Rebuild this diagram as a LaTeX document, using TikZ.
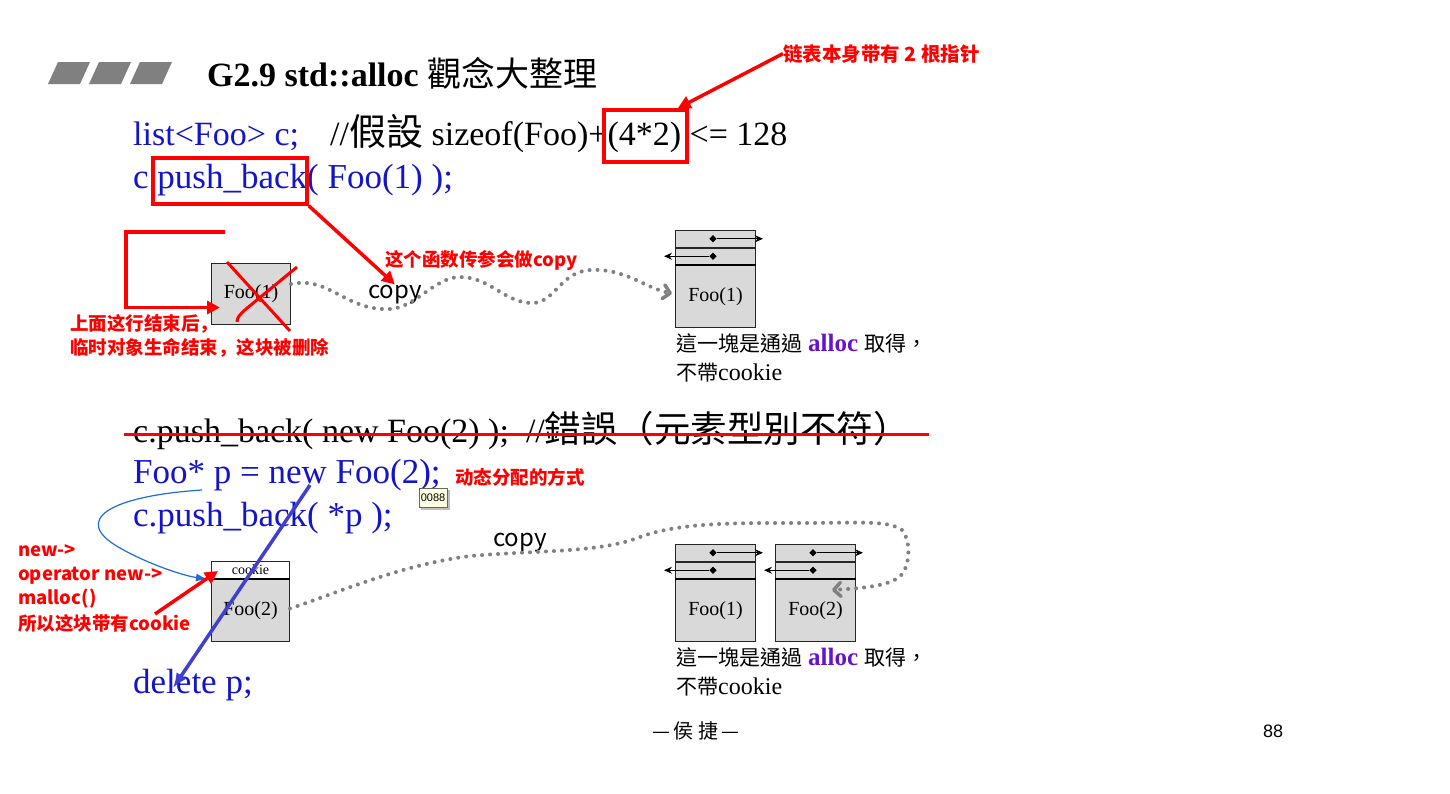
\documentclass[tikz,border=0pt]{standalone}
\usepackage{fontspec}
\setmainfont{Liberation Serif}
\newfontfamily\tcfont{Noto Sans CJK TC}
\newfontfamily\scfont{Noto Sans CJK SC}
\newfontfamily\arialfont{Liberation Sans}
\usetikzlibrary{arrows.meta,shapes.geometric,calc}
\newcommand\myfs[1]{\fontsize{#1}{#1}\selectfont}
\definecolor{codeblue}{RGB}{20,20,200}
\definecolor{dotgray}{RGB}{128,128,128}
\definecolor{boxgray}{RGB}{217,217,217}
\definecolor{allocpurple}{RGB}{102,20,204}
\definecolor{tipblue}{RGB}{30,110,210}
\definecolor{delblue}{RGB}{64,64,208}
\definecolor{tipyellow}{RGB}{255,255,225}
\tikzset{
  code/.style={anchor=base west, inner sep=0pt, text=codeblue, font=\myfs{35}},
  plain/.style={anchor=base west, inner sep=0pt, font=\myfs{34}},
  ann/.style={anchor=base west, inner sep=0pt, text=red, font=\scfont\bfseries\myfs{18.5}},
  redline/.style={draw=red, line width=3pt},
  redbox/.style={draw=red, line width=3.5pt, inner sep=0pt},
  redarrow/.style={draw=red, line width=3.5pt, -{Triangle[length=13pt,width=13pt]}},
  rowbox/.style={draw=black!85, line width=1pt, fill=boxgray, minimum width=80pt, minimum height=16.5pt, inner sep=0pt, anchor=north west},
  bodybox/.style={draw=black!85, line width=1pt, fill=boxgray, minimum width=80pt, minimum height=62pt, inner sep=0pt, anchor=north west, font=\myfs{20}},
  ptr/.style={diamond, fill=black, inner sep=0pt, minimum size=7.5pt},
  ptrline/.style={line width=1pt, -{Stealth[length=8pt,width=7pt]}},
  dots/.style={draw=dotgray, line width=4pt, line cap=round, dash pattern=on 0pt off 8pt},
  chev/.style={-{Straight Barb[length=7pt,width=14pt,line width=3.5pt,round]}},
  parallel/.style={fill=dotgray}
}
\newcommand\lblock[4]{%
  \node[rowbox] (#1r1) at (#2,#3) {};
  \node[rowbox] (#1r2) at (#1r1.south west) {};
  \node[bodybox] (#1) at (#1r2.south west) {#4};
  \draw[line width=2.5pt] (#1.north west) -- (#1.north east);
  \node[ptr] (#1d1) at ($(#1r1.west)+(38,0)$) {};
  \coordinate (#1e1) at ($(#1r1.west)+(88,0)$);
  \draw[ptrline] (#1d1) -- (#1e1);
  \node[ptr] (#1d2) at ($(#1r2.west)+(38,0)$) {};
  \coordinate (#1e2) at ($(#1r2.west)+(-11,0)$);
  \draw[ptrline] (#1d2) -- (#1e2);
}
\begin{document}
\begin{tikzpicture}[x=1pt,y=-1pt]
\useasboundingbox (0,0) rectangle (1450,793);
\fill[white] (0,0) rectangle (1450,793);

% header parallelograms
\fill[parallel] (48,84) -- (58,62) -- (90,62) -- (80,84) -- cycle;
\fill[parallel] (89,84) -- (99,62) -- (131,62) -- (121,84) -- cycle;
\fill[parallel] (130,84) -- (140,62) -- (172,62) -- (162,84) -- cycle;

\node[anchor=base west, inner sep=0pt, font=\bfseries\myfs{34}] (title) at (207,86) {G2.9 std::alloc {\tcfont\mdseries 觀念大整理}};

% code lines
\node[code, font=\myfs{34}] (l1a) at (133,145) {list<Foo> c;};
\node[plain] (l1b) at (330,145) {//{\tcfont\myfs{37}假設} sizeof(Foo)+(4*2) <= 128};
\node[code] (l2) at (133,188) {c.push\_back( Foo(1) );};

\node[redbox, minimum width=154pt, minimum height=46pt] (pbbox) at (230,181) {};
\node[redbox, minimum width=83pt, minimum height=52pt] (b42) at (645.5,136) {};

\node[ann, font=\scfont\bfseries\myfs{19.5}] (a1) at (783,61) {链表本身带有 2 根指针};
\draw[redarrow] (a1.west) -- ($(b42.north east)+(-11,0)$);

% first scenario
\node[bodybox, minimum width=79pt, minimum height=61pt] (lf1) at (211,263) {Foo(1)};
\node[anchor=base west, inner sep=0pt, font=\scfont\myfs{24}] (cpy1) at (368,298) {copy};
\node[ann] (a2) at (385,266) {这个函数传参会做copy};
\draw[redarrow] (pbbox.south east) -- (cpy1.north);

\coordinate (brk) at (225,232);
\draw[redarrow] (brk) -- (126,232) |- ($(lf1.west)+(9,13.5)$);
\draw[redline] (227,262) -- (290,331);
\draw[redline] (297,267) -- (246,309) .. controls (239,315) and (237,318) .. (237,322);

\node[ann] (a3) at (70,330) {上面这行结束后，};
\node[ann] (a4) at (70,354) {临时对象生命结束，这块被删除};

\lblock{rb}{675}{230}{Foo(1)}
\draw[dots, chev] ($(lf1.east)+(0,-10)$) .. controls (330,276) and (345,311) .. (390,309)
  .. controls (415,308) and (435,277) .. (460,277)
  .. controls (490,277) and (505,303) .. (532,303)
  .. controls (555,303) and (560,272) .. (590,270)
  .. controls (625,268) and (645,288) .. ($(rb.west)+(-3,-3)$);

\node[anchor=base west, inner sep=0pt, font=\myfs{24}] (cap1a) at (676,351) {{\tcfont\myfs{21}這一塊是通過} {\bfseries\myfs{25}\color{allocpurple}alloc} {\tcfont\myfs{21}取得，}};
\node[anchor=base west, inner sep=0pt, font=\myfs{24}] (cap1b) at (676,380) {{\tcfont\myfs{21}不帶}cookie};

% second scenario
\node[plain] (l3) at (133,442) {c.push\_back( new Foo(2) );\ \ //{\tcfont\myfs{36.5}錯誤（元素型別不符）}};
\draw[redline] ($(l3.base west)+(-9,-8)$) -- ($(l3.base east)+(19,-8)$);

\node[code] (l4) at (133,483) {Foo* p = new Foo(2);};
\node[ann] (a5) at (455,484) {动态分配的方式};
\draw[black!25, line width=1.5pt] (421,509) -- (449,509) -- (449,490);
\node[draw=black!60, fill=tipyellow, inner sep=1pt, font=\arialfont\myfs{11}, minimum width=28pt, minimum height=19pt] (tip) at (433,497.5) {0088};
\node[code] (l5) at (133,526) {c.push\_back( *p );};
\node[code] (l6) at (133,693) {delete p;};

\node[rowbox, fill=white, minimum width=78pt, minimum height=17pt, font=\myfs{14}] (ck) at (211,561) {cookie};
\node[bodybox, minimum width=78pt] (lf2) at (ck.south west) {Foo(2)};
\draw[line width=2.5pt] (lf2.north west) -- (lf2.north east);

\node[ann] (n1) at (18,556) {new->};
\node[ann] (n2) at (18,580) {operator new->};
\node[ann] (n3) at (18,604) {malloc()};
\node[ann] (n4) at (18,630) {所以这块带有cookie};

\coordinate (bs) at (202,490);
\draw[tipblue, line width=1.2pt, -{Latex[length=11pt,width=8pt]}] (bs) .. controls (110,496) and (70,520) .. (120,548) .. controls (150,565) and (185,576) .. ($(ck.south west)+(-4,0)$);

\coordinate (ds) at (310,485);
\draw[delblue, line width=3.5pt, -{Latex[length=15pt,width=12pt]}] (ds) -- ($(l6.base west)+(40,-5)$);

\coordinate (ra) at (155,614);
\draw[redarrow] (ra) -- ($(ck.south west)+(7,-8)$);

\lblock{rc}{675}{544}{Foo(1)}
\lblock{rd}{775}{544}{Foo(2)}

\node[anchor=base west, inner sep=0pt, font=\scfont\myfs{24}] (cpy2) at (493,546) {copy};
\draw[dots, chev] ($(lf2.east)+(0,-2)$) .. controls (340,592) and (400,565) .. (470,556)
  .. controls (540,550) and (600,553) .. (640,537)
  .. controls (680,522) and (740,523) .. (800,523)
  .. controls (860,523) and (888,520) .. (902,530)
  .. controls (912,542) and (910,570) .. (898,578)
  .. controls (885,586) and (865,588) .. ($(rd.north west)+(57,11)$);

\node[anchor=base west, inner sep=0pt, font=\myfs{24}] (cap2a) at (676,665) {{\tcfont\myfs{21}這一塊是通過} {\bfseries\myfs{25}\color{allocpurple}alloc} {\tcfont\myfs{21}取得，}};
\node[anchor=base west, inner sep=0pt, font=\myfs{24}] (cap2b) at (676,694) {{\tcfont\myfs{21}不帶}cookie};

% footer
\node[font=\tcfont\myfs{20}, inner sep=0pt] (ft) at (696,731) {—\hspace{3pt}侯\hspace{5pt}捷\hspace{3pt}—};
\node[font=\arialfont\myfs{18}, inner sep=0pt] (pg) at (1273,731) {88};
\end{tikzpicture}
\end{document}
